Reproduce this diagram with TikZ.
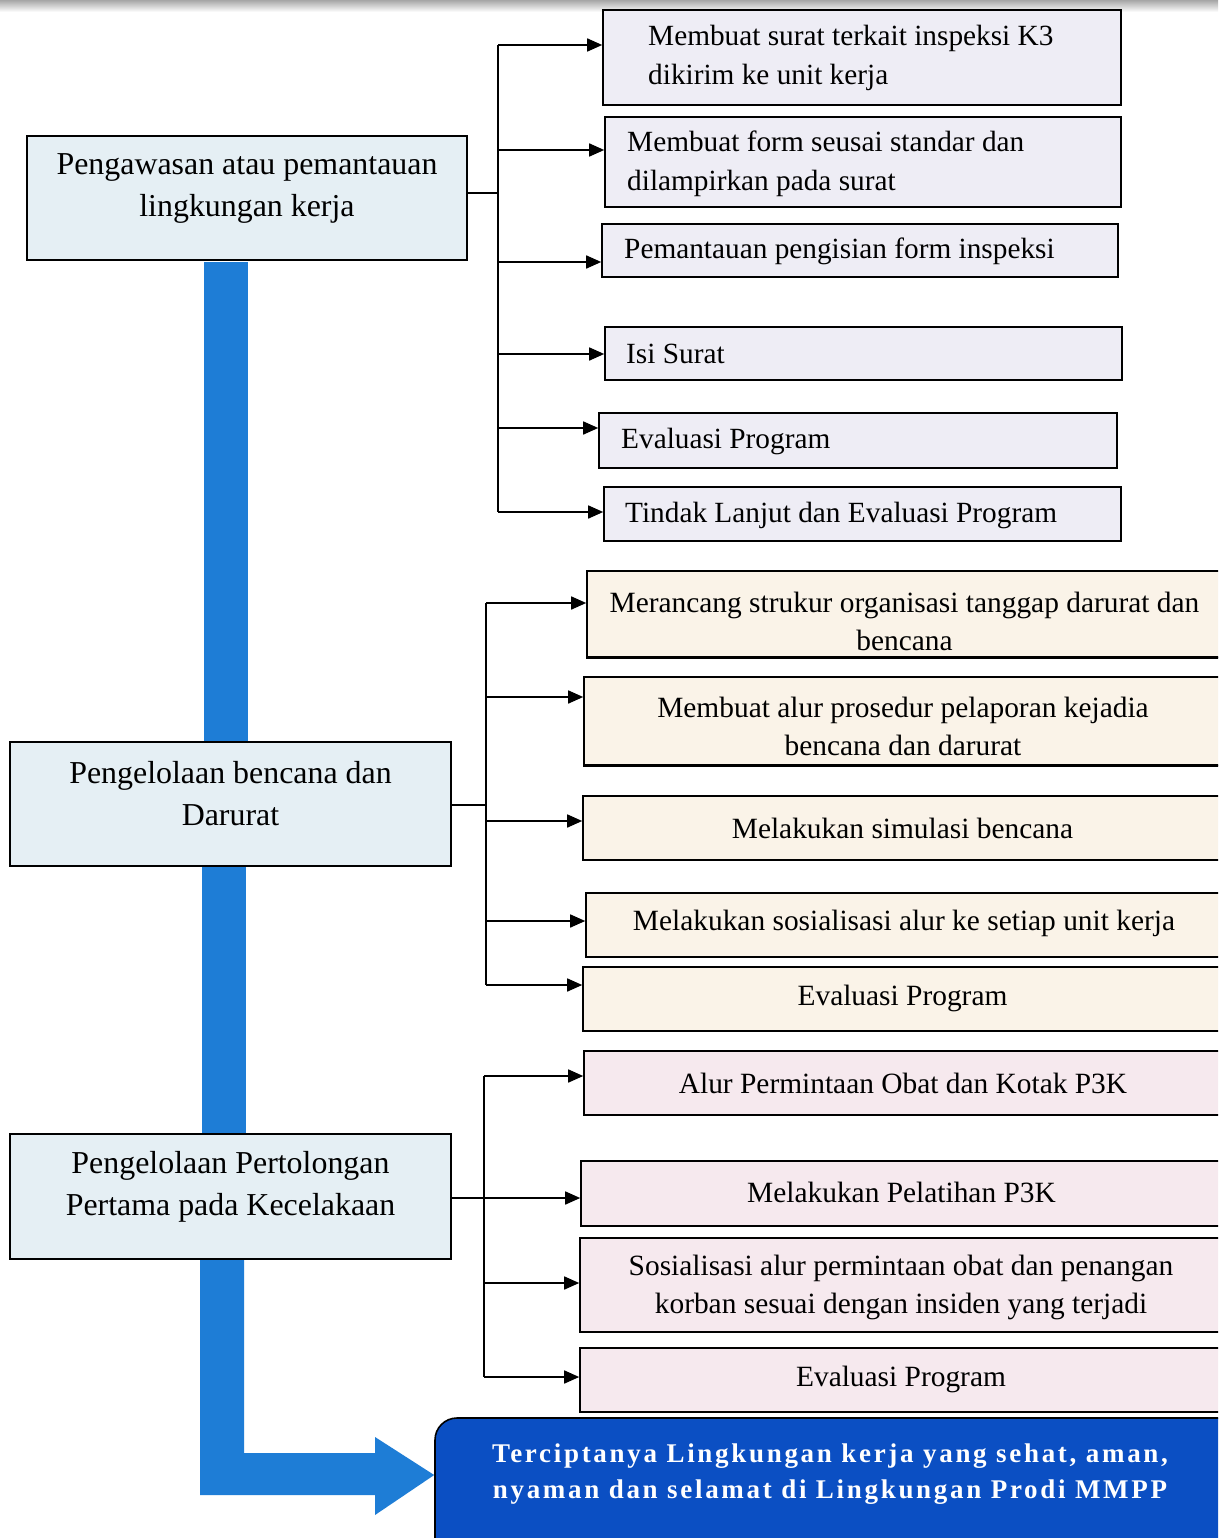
\documentclass[tikz,border=0pt]{standalone}
\usepackage{fontspec}
\setmainfont{Liberation Serif}
\newfontfamily\spacedfont[LetterSpace=10]{Liberation Serif}
\usetikzlibrary{arrows.meta,calc}
\definecolor{mainfill}{HTML}{E5EFF4}
\definecolor{gonefill}{HTML}{EEEDF5}
\definecolor{gtwofill}{HTML}{FAF3E8}
\definecolor{gthreefill}{HTML}{F6E9EE}
\definecolor{barblue}{HTML}{1E7DD6}
\definecolor{finalblue}{HTML}{0B4FC3}
\begin{document}
\begin{tikzpicture}[x=1pt,y=-1pt,
  box/.style={draw=black, line width=1.6pt, rectangle, inner sep=0pt},
  mainbox/.style={box, fill=mainfill, minimum width=441, minimum height=124},
  onebox/.style={box, fill=gonefill},
  twobox/.style={box, fill=gtwofill},
  threebox/.style={box, fill=gthreefill},
  lefttxt/.style={anchor=west, inner sep=0pt, align=left, font=\fontsize{29.3}{39}\selectfont},
  ctrtxt/.style={inner sep=0pt, align=center, font=\fontsize{29.4}{38}\selectfont},
  maintxt/.style={inner sep=0pt, align=center, font=\fontsize{31.9}{42}\selectfont},
  conn/.style={draw=black, line width=1.6pt},
  arr/.style={conn, -{Triangle[length=15pt,width=13pt]}},
]
\useasboundingbox (0,0) rectangle (1218,1538);
\clip (0,0) rectangle (1218,1538);
\fill[white] (0,0) rectangle (1218,1538);
\shade[top color=black!35, bottom color=white] (0,0) rectangle (1218,12);

% ---------- main (left) boxes ----------
\node[mainbox, minimum width=440] (L1) at (247,198) {};
\node[maintxt] (L1t) at (247,188) {Pengawasan atau pemantauan\\lingkungan kerja};
\node[mainbox] (L2) at (230.5,804) {};
\node[maintxt] (L2t) at (230.5,794) {Pengelolaan bencana dan\\Darurat};
\node[mainbox, minimum height=125] (L3) at (230.5,1196.5) {};
\node[maintxt] (L3t) at (230.5,1187) {Pengelolaan Pertolongan\\Pertama pada Kecelakaan};

% ---------- blue flow bars ----------
\fill[barblue] (204,262) rectangle (248,741);
\fill[barblue] (202,867) rectangle (246,1133);
\node[box, fill=finalblue, rounded corners=22pt, minimum width=805, minimum height=142] (F) at (837.5,1489) {};
\fill[barblue] (200,1260) -- (244,1260) -- (244,1453) -- (375,1453) -- (375,1437)
  -- (F.west |- 0,1475) -- (375,1515) -- (375,1495) -- (200,1495) -- cycle;
\node[inner sep=0pt, align=center, text=white, font=\spacedfont\bfseries\fontsize{27}{36}\selectfont] (Ft) at (830,1474)
  {Terciptanya Lingkungan kerja yang sehat, aman,\\nyaman dan selamat di Lingkungan Prodi MMPP};

% ---------- group 1 ----------
\node[onebox, minimum width=518, minimum height=95] (B1) at (862,57.5) {};
\node[onebox, minimum width=516, minimum height=90] (B2) at (863,162) {};
\node[onebox, minimum width=516, minimum height=53] (B3) at (860,250.5) {};
\node[onebox, minimum width=517, minimum height=53] (B4) at (863.5,353.5) {};
\node[onebox, minimum width=518, minimum height=55] (B5) at (858,440.5) {};
\node[onebox, minimum width=517, minimum height=54] (B6) at (862.5,514) {};
\node[lefttxt] (B1t) at (648,57.5) {Membuat surat terkait inspeksi K3\\dikirim ke unit kerja};
\node[lefttxt] (B2t) at (627,164) {Membuat form seusai standar dan\\dilampirkan pada surat};
\node[lefttxt] (B3t) at (624,251) {Pemantauan pengisian form inspeksi};
\node[lefttxt] (B4t) at (626,354) {Isi Surat};
\node[lefttxt] (B5t) at (621,441) {Evaluasi Program};
\node[lefttxt] (B6t) at (625,515) {Tindak Lanjut dan Evaluasi Program};

\coordinate (s11) at (498,45);
\coordinate (s12) at (498,150);
\coordinate (s13) at (498,262);
\coordinate (s14) at (498,354);
\coordinate (s15) at (498,428);
\coordinate (s16) at (498,512);
\draw[conn] (L1.east |- 0,193) -- (s11 |- 0,193);
\draw[conn] (s11) -- (s16);
\draw[arr] (s11) -- (s11 -| B1.west);
\draw[arr] (s12) -- (s12 -| B2.west);
\draw[arr] (s13) -- (s13 -| B3.west);
\draw[arr] (s14) -- (s14 -| B4.west);
\draw[arr] (s15) -- (s15 -| B5.west);
\draw[arr] (s16) -- (s16 -| B6.west);

% ---------- group 2 ----------
\node[twobox, minimum width=635, minimum height=86] (C1) at (904.5,614) {};
\node[twobox, minimum width=638, minimum height=88] (C2) at (903,721) {};
\node[twobox, minimum width=639, minimum height=64] (C3) at (902.5,828) {};
\node[twobox, minimum width=636, minimum height=64] (C4) at (904,925) {};
\node[twobox, minimum width=639, minimum height=64] (C5) at (902.5,999) {};
\begin{scope}
  \clip (C1.south west) rectangle (C1.north east);
  \node[ctrtxt] (C1t) at (904.5,621) {Merancang strukur organisasi tanggap darurat dan\\bencana};
\end{scope}
\begin{scope}
  \clip (C2.south west) rectangle (C2.north east);
  \node[ctrtxt] (C2t) at (903,726.5) {Membuat alur prosedur pelaporan kejadia\\bencana dan darurat};
\end{scope}
\draw[line width=1.6pt] (C1.south west) -- (C1.south east);
\draw[line width=1.6pt] (C2.south west) -- (C2.south east);
\node[ctrtxt] (C3t) at (902.5,828) {Melakukan simulasi bencana};
\node[ctrtxt] (C4t) at (904,923) {Melakukan sosialisasi alur ke setiap unit kerja};
\node[ctrtxt] (C5t) at (902.5,998) {Evaluasi Program};

\coordinate (s21) at (486,603);
\coordinate (s22) at (486,697);
\coordinate (s23) at (486,821);
\coordinate (s24) at (486,921);
\coordinate (s25) at (486,985);
\draw[conn] (L2.east |- 0,805) -- (s21 |- 0,805);
\draw[conn] (s21) -- (s25);
\draw[arr] (s21) -- (s21 -| C1.west);
\draw[arr] (s22) -- (s22 -| C2.west);
\draw[arr] (s23) -- (s23 -| C3.west);
\draw[arr] (s24) -- (s24 -| C4.west);
\draw[arr] (s25) -- (s25 -| C5.west);

% ---------- group 3 ----------
\node[threebox, minimum width=638, minimum height=64] (D1) at (903,1083) {};
\node[threebox, minimum width=641, minimum height=65] (D2) at (901.5,1193.5) {};
\node[threebox, minimum width=642, minimum height=94] (D3) at (901,1285) {};
\node[threebox, minimum width=642, minimum height=64] (D4) at (901,1380) {};
\node[ctrtxt] (D1t) at (903,1083) {Alur Permintaan Obat dan Kotak P3K};
\node[ctrtxt] (D2t) at (901.5,1192) {Melakukan Pelatihan P3K};
\node[ctrtxt] (D3t) at (901,1287) {Sosialisasi alur permintaan obat dan penangan\\korban sesuai dengan insiden yang terjadi};
\node[ctrtxt] (D4t) at (901,1379) {Evaluasi Program};

\coordinate (s31) at (484,1076);
\coordinate (s32) at (484,1198);
\coordinate (s33) at (484,1283);
\coordinate (s34) at (484,1377);
\draw[conn] (L3.east |- 0,1198) -- (s31 |- 0,1198);
\draw[conn] (s31) -- (s34);
\draw[arr] (s31) -- (s31 -| D1.west);
\draw[arr] (s32) -- (s32 -| D2.west);
\draw[arr] (s33) -- (s33 -| D3.west);
\draw[arr] (s34) -- (s34 -| D4.west);
\end{tikzpicture}
\end{document}
